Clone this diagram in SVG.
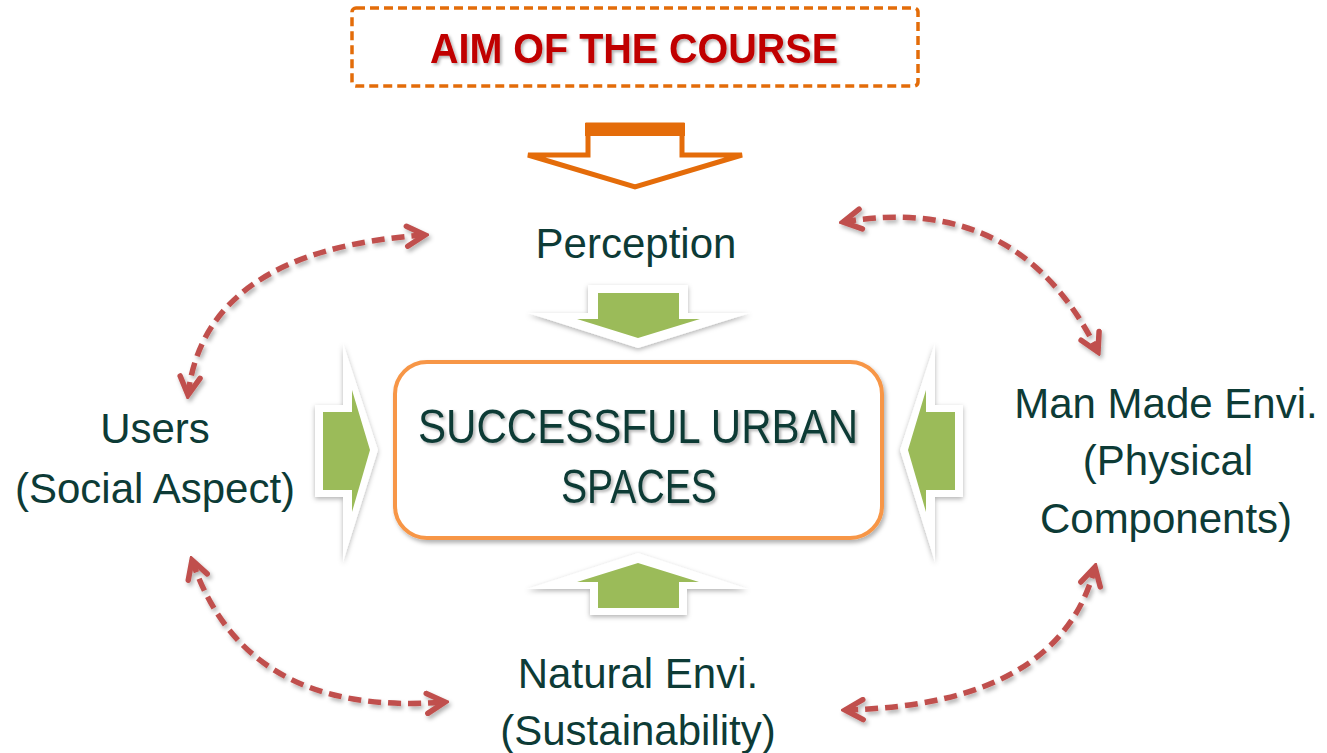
<svg xmlns="http://www.w3.org/2000/svg" width="1327" height="753" viewBox="0 0 1327 753">
<defs>
<style>
.lbl{font-family:"Liberation Sans",Arial,sans-serif;font-size:42px;fill:#0D3B36;text-anchor:middle}
.ctr{font-family:"Liberation Sans",Arial,sans-serif;font-size:49px;fill:#0D3B36;text-anchor:middle}
.ttl{font-family:"Liberation Sans",Arial,sans-serif;font-size:42px;font-weight:bold;fill:#C00000;text-anchor:middle}
.dash{fill:none;stroke:#C0504D;stroke-width:5.5;stroke-dasharray:13 7;marker-start:url(#chev);marker-end:url(#chev)}
.outer{fill:#FFFFFF}
.green{fill:#9BBB59}
</style>
<marker id="chev" markerUnits="userSpaceOnUse" viewBox="0 0 26 26" markerWidth="26" markerHeight="26" refX="22" refY="13" orient="auto-start-reverse">
<path d="M4,3 L22,13 L4,23" fill="none" stroke="#C0504D" stroke-width="5.5" stroke-linecap="round" stroke-linejoin="miter"/>
</marker>
<filter id="sh" x="-20%" y="-20%" width="140%" height="140%">
<feDropShadow dx="2" dy="3" stdDeviation="2" flood-color="#000" flood-opacity="0.3"/>
</filter>
<filter id="shw" x="-30%" y="-30%" width="160%" height="160%">
<feDropShadow dx="0" dy="2" stdDeviation="2.5" flood-color="#000" flood-opacity="0.3"/>
</filter>
<filter id="tsh" x="-10%" y="-30%" width="120%" height="160%">
<feDropShadow dx="2" dy="2" stdDeviation="1.5" flood-color="#000" flood-opacity="0.3"/>
</filter>
</defs>
<rect width="1327" height="753" fill="#FFFFFF"/>

<g id="title">
<rect x="352" y="8" width="566" height="78" rx="4" fill="none" stroke="#E36C09" stroke-width="3.5" stroke-dasharray="9 5"/>
<text class="ttl" x="634" y="63" textLength="408" lengthAdjust="spacingAndGlyphs" filter="url(#tsh)">AIM OF THE COURSE</text>
</g>

<g id="aim-arrow">
<path d="M588,125 L682,125 L682,155 L742,155 L635,187 L528,155 L588,155 Z" fill="#FFFFFF" stroke="#E46C0A" stroke-width="5" stroke-linejoin="miter"/>
<rect x="585" y="123" width="100" height="13" fill="#E46C0A"/>
</g>

<g id="perception">
<text class="lbl" x="636" y="258">Perception</text>
</g>

<g id="users">
<text class="lbl" x="155" y="443">Users</text>
<text class="lbl" x="155" y="503">(Social Aspect)</text>
</g>

<g id="man-made">
<text class="lbl" x="1166" y="418">Man Made Envi.</text>
<text class="lbl" x="1168" y="475">(Physical</text>
<text class="lbl" x="1166" y="533">Components)</text>
</g>

<g id="natural">
<text class="lbl" x="638" y="688">Natural Envi.</text>
<text class="lbl" x="638" y="745">(Sustainability)</text>
</g>

<g id="central">
<rect x="395" y="362" width="487" height="176" rx="32" fill="#FFFFFF" stroke="#F79646" stroke-width="4" filter="url(#sh)"/>
<text class="ctr" x="638" y="443" textLength="440" lengthAdjust="spacingAndGlyphs" filter="url(#tsh)">SUCCESSFUL URBAN</text>
<text class="ctr" x="639" y="503" textLength="156" lengthAdjust="spacingAndGlyphs" filter="url(#tsh)">SPACES</text>
</g>

<g id="connectors">
<g id="green-top">
<path class="outer" filter="url(#shw)" d="M588,285 L688,285 L688,313 L750,313 L638,348 L528,313 L588,313 Z"/>
<path class="green" d="M598,293 L679,293 L679,319 L700,319 L638,338 L577,319 L598,319 Z"/>
</g>
<g id="green-bottom">
<path class="outer" filter="url(#shw)" d="M590,615 L687,615 L687,589 L748,589 L638,553 L527,589 L590,589 Z"/>
<path class="green" d="M598,608 L679,608 L679,582 L699,582 L638,563 L577,582 L598,582 Z"/>
</g>
<g id="green-left">
<path class="outer" filter="url(#shw)" d="M315,405 L343,405 L343,343 L378,450 L343,562 L343,497 L315,497 Z"/>
<path class="green" d="M323,412 L352,412 L352,390 L370,450 L352,512 L352,490 L323,490 Z"/>
</g>
<g id="green-right">
<path class="outer" filter="url(#shw)" d="M963,405 L935,405 L935,343 L900,450 L935,562 L935,497 L963,497 Z"/>
<path class="green" d="M955,412 L926,412 L926,390 L908,450 L926,512 L926,490 L955,490 Z"/>
</g>
<g filter="url(#sh)">
<path class="dash" d="M188,395 Q205,250 425,235"/>
<path class="dash" d="M843,222 Q1020,192 1098,352"/>
<path class="dash" d="M192,560 Q245,718 445,702"/>
<path class="dash" d="M845,710 Q1060,705 1095,567"/>
</g>
</g>
</svg>
